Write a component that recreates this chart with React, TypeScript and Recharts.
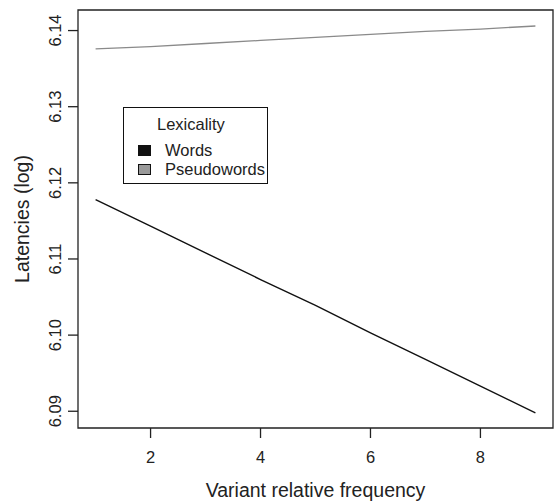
import { LineChart, Line, XAxis, YAxis, ReferenceArea, Legend } from 'recharts';

const frequency = [1, 2, 3, 4, 5, 6, 7, 8, 9];
const words = [6.1178, 6.1143, 6.1108, 6.1073, 6.1039, 6.1003, 6.0968, 6.0933, 6.0898];
const pseudowords = [6.1376, 6.1379, 6.1383, 6.1387, 6.1391, 6.1395, 6.1399, 6.1402, 6.1406];
const xTicks = [2, 4, 6, 8];
const yTicks = [6.09, 6.1, 6.11, 6.12, 6.13, 6.14];
const xDomain = [0.68, 9.32];
const yDomain = [6.0878, 6.1427];

const legendTitle = 'Lexicality';
const legendItems = [
  { name: 'Words', fill: '#111111' },
  { name: 'Pseudowords', fill: '#999999' },
];

const data = frequency.map((f, i) => ({ freq: f, words: words[i], pseudowords: pseudowords[i] }));

const FONT = '"Liberation Sans", Arial, Helvetica, sans-serif';

const XTick = ({ x, y, payload }: any) => (
  <text x={x} y={y + 22.5} textAnchor="middle" fontSize={16.5} fill="#222" fontFamily={FONT}>
    {payload.value}
  </text>
);

const YTick = ({ x, y, payload }: any) => {
  const bx = x - 4.5;
  return (
    <text x={bx} y={y} transform={`rotate(-90, ${bx}, ${y})`} textAnchor="middle" fontSize={16.5} fill="#222" fontFamily={FONT}>
      {Number(payload.value).toFixed(2)}
    </text>
  );
};

const LegendBox = () => (
  <div
    style={{
      width: 143,
      height: 75,
      border: '1px solid #111',
      background: '#fff',
      fontFamily: FONT,
      fontSize: 16.5,
      color: '#222',
      position: 'relative',
    }}
  >
    <div style={{ position: 'absolute', left: 33, top: 7, lineHeight: '18px' }}>{legendTitle}</div>
    {legendItems.map((item, i) => (
      <div key={item.name} style={{ position: 'absolute', left: 14, top: 33 + i * 19, height: 18, display: 'flex', alignItems: 'center' }}>
        <span
          style={{
            display: 'inline-block',
            width: 11,
            height: 9,
            background: item.fill,
            border: '1px solid #111',
            marginRight: 14,
          }}
        />
        <span style={{ lineHeight: '18px' }}>{item.name}</span>
      </div>
    ))}
  </div>
);

export default function App() {
  return (
    <div style={{ position: 'absolute', left: 0, top: 0, width: 556, height: 502, background: '#fff' }}>
      <LineChart width={556} height={502} data={data} margin={{ top: 10, right: 3, bottom: 0, left: 18 }}>
        <XAxis
          dataKey="freq"
          type="number"
          domain={xDomain}
          ticks={xTicks}
          tickSize={10}
          tick={<XTick />}
          axisLine={false}
          tickLine={{ stroke: '#222', strokeWidth: 1.3 }}
          height={74}
          label={{
            content: () => (
              <text x={315.5} y={497} textAnchor="middle" fontSize={19.5} fill="#222" fontFamily={FONT}>
                Variant relative frequency
              </text>
            ),
          }}
        />
        <YAxis
          type="number"
          domain={yDomain}
          ticks={yTicks}
          tickSize={10}
          tick={<YTick />}
          axisLine={false}
          tickLine={{ stroke: '#222', strokeWidth: 1.3 }}
          width={60}
          allowDataOverflow
          label={{
            content: () => (
              <text x={29} y={219} transform="rotate(-90, 29, 219)" textAnchor="middle" fontSize={19.5} fill="#222" fontFamily={FONT}>
                Latencies (log)
              </text>
            ),
          }}
        />
        <ReferenceArea
          x1={xDomain[0]}
          x2={xDomain[1]}
          y1={yDomain[0]}
          y2={yDomain[1]}
          fill="none"
          stroke="#222"
          strokeWidth={1.3}
          ifOverflow="visible"
        />
        <Line dataKey="pseudowords" stroke="#8a8a8a" strokeWidth={1.3} dot={false} isAnimationActive={false} />
        <Line dataKey="words" stroke="#111" strokeWidth={1.4} dot={false} isAnimationActive={false} />
        <Legend
          layout="vertical"
          align="center"
          verticalAlign="middle"
          content={<LegendBox />}
          wrapperStyle={{ left: 123, top: 107, width: 145 }}
        />
      </LineChart>
    </div>
  );
}
